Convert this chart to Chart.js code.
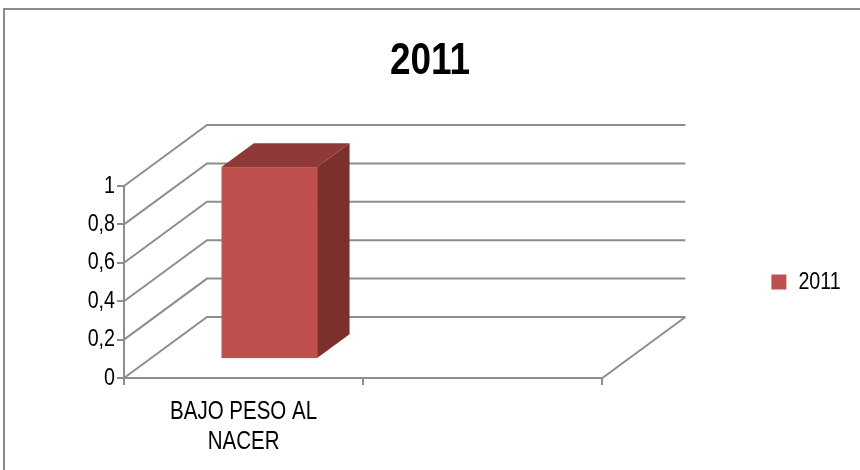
<!DOCTYPE html>
<html lang="es">
<head>
  <meta charset="UTF-8" />
  <title>2011</title>
  <!-- Chart.js -->
  <script src="https://cdn.jsdelivr.net/npm/chart.js"></script>
  <style>
    html, body { margin: 0; padding: 0; background: #fff; }
    #wrap { width: 860px; height: 470px; }
  </style>
</head>
<body>
  <div id="wrap"><canvas id="chart" width="860" height="470"></canvas></div>

  <script>
    // ---------------------------------------------------------------
    // Data
    // ---------------------------------------------------------------
    const categories = [['BAJO PESO AL', 'NACER'], ''];
    const values2011 = [1, null];
    const seriesName = '2011';
    const yMin = 0;
    const yMax = 1;
    const yStep = 0.2;

    // ---------------------------------------------------------------
    // Look
    // ---------------------------------------------------------------
    const FAMILY = "'Liberation Sans', Arial, sans-serif";
    const NARROW = 0.82;   // the original text is a narrow face (Arial Narrow)
    const LINE = '#8e8e8e';
    const RED = '#c0504d';
    const RED_TOP = '#8f3a38';
    const RED_SIDE = '#7c302e';

    // fake 3D: offset of the back wall, and where the bar sits in depth
    const DX = 83, DY = -61;
    const BAR_FRONT = 0.31, BAR_BACK = 0.70;

    const fake3d = {
      id: 'fake3d',
      beforeInit(chart) {
        // squeeze every label horizontally, no narrow font is installed
        const ctx = chart.ctx;
        const fillText = ctx.fillText.bind(ctx);
        ctx.fillText = (text, x, y, maxWidth) => {
          const w = ctx.measureText(text).width * NARROW;
          return fillText(text, x, y, maxWidth === undefined ? w : Math.min(maxWidth, w));
        };
      },
      beforeDraw(chart) {
        const ctx = chart.ctx;
        ctx.save();
        ctx.fillStyle = '#fff';
        ctx.fillRect(0, 0, chart.width, chart.height);
        // outer frame (only left and top edges are visible)
        ctx.strokeStyle = '#8a8a8a';
        ctx.lineWidth = 2;
        ctx.strokeRect(4, 9, chart.width + 20, chart.height + 20);
        ctx.restore();
      },
      beforeDatasetsDraw(chart) {
        const { ctx, chartArea: a, scales: { y } } = chart;
        ctx.save();
        ctx.strokeStyle = LINE;
        ctx.lineWidth = 2;
        ctx.beginPath();
        y.ticks.forEach(t => {
          const py = y.getPixelForValue(t.value);
          ctx.moveTo(a.left, py);
          ctx.lineTo(a.left + DX, py + DY);
          ctx.lineTo(a.right + DX, py + DY);
        });
        // right edge of the floor
        ctx.moveTo(a.right, a.bottom);
        ctx.lineTo(a.right + DX, a.bottom + DY);
        ctx.stroke();
        ctx.restore();
      },
      // the flat bar is replaced by the box drawn below
      beforeDatasetDraw() {
        return false;
      },
      afterDatasetsDraw(chart) {
        const ctx = chart.ctx;
        const meta = chart.getDatasetMeta(0);
        const values = chart.data.datasets[0].data;
        const ox = DX * BAR_FRONT, oy = DY * BAR_FRONT;
        const dx = DX * (BAR_BACK - BAR_FRONT), dy = DY * (BAR_BACK - BAR_FRONT);
        ctx.save();
        meta.data.forEach((el, i) => {
          if (values[i] == null) return;
          const x0 = el.x - el.width / 2 + ox;
          const x1 = x0 + el.width;
          const top = el.y + oy;
          const bot = el.base + oy;
          // front
          ctx.fillStyle = RED;
          ctx.fillRect(x0, top, x1 - x0, bot - top);
          // top
          ctx.fillStyle = RED_TOP;
          ctx.beginPath();
          ctx.moveTo(x0, top);
          ctx.lineTo(x0 + dx, top + dy);
          ctx.lineTo(x1 + dx, top + dy);
          ctx.lineTo(x1, top);
          ctx.closePath();
          ctx.fill();
          // side
          ctx.fillStyle = RED_SIDE;
          ctx.beginPath();
          ctx.moveTo(x1, top);
          ctx.lineTo(x1 + dx, top + dy);
          ctx.lineTo(x1 + dx, bot + dy);
          ctx.lineTo(x1, bot);
          ctx.closePath();
          ctx.fill();
        });
        ctx.restore();
      }
    };

    const textFont = { family: FAMILY, size: 24 };

    new Chart(document.getElementById('chart'), {
      type: 'bar',
      data: {
        labels: categories,
        datasets: [{
          label: seriesName,
          data: values2011,
          backgroundColor: RED,
          borderWidth: 0,
          categoryPercentage: 1,
          barPercentage: 0.4
        }]
      },
      options: {
        responsive: false,
        animation: false,
        layout: { padding: 0 },
        scales: {
          x: {
            grid: { drawOnChartArea: false, tickLength: 7, color: LINE, lineWidth: 2 },
            border: { display: true, color: LINE, width: 2 },
            ticks: { color: '#000', padding: 12, maxRotation: 0, font: { family: FAMILY, size: 25 } },
            afterFit: s => { s.height = 92; }
          },
          y: {
            min: yMin,
            max: yMax,
            grid: { drawOnChartArea: false, tickLength: 7, color: LINE, lineWidth: 2 },
            border: { display: true, color: LINE, width: 2 },
            ticks: {
              stepSize: yStep,
              color: '#000',
              padding: 2,
              font: textFont,
              callback: v => String(+v.toFixed(1)).replace('.', ',')
            },
            afterFit: s => { s.width = 124; }
          },
          // empty room on the right for the depth of the walls
          depth: {
            type: 'linear',
            position: 'right',
            display: true,
            grid: { display: false },
            border: { display: false },
            ticks: { display: false },
            afterFit: s => { s.width = 164; }
          }
        },
        plugins: {
          title: {
            display: true,
            text: '2011',
            color: '#000',
            font: { family: FAMILY, size: 45, weight: 'bold' },
            padding: { top: 35, bottom: 97 }
          },
          legend: {
            position: 'right',
            fullSize: false,
            labels: {
              color: '#000',
              boxWidth: 15,
              boxHeight: 15,
              padding: 5,
              font: textFont
            }
          },
          tooltip: { enabled: false }
        }
      },
      plugins: [fake3d]
    });
  </script>
</body>
</html>
